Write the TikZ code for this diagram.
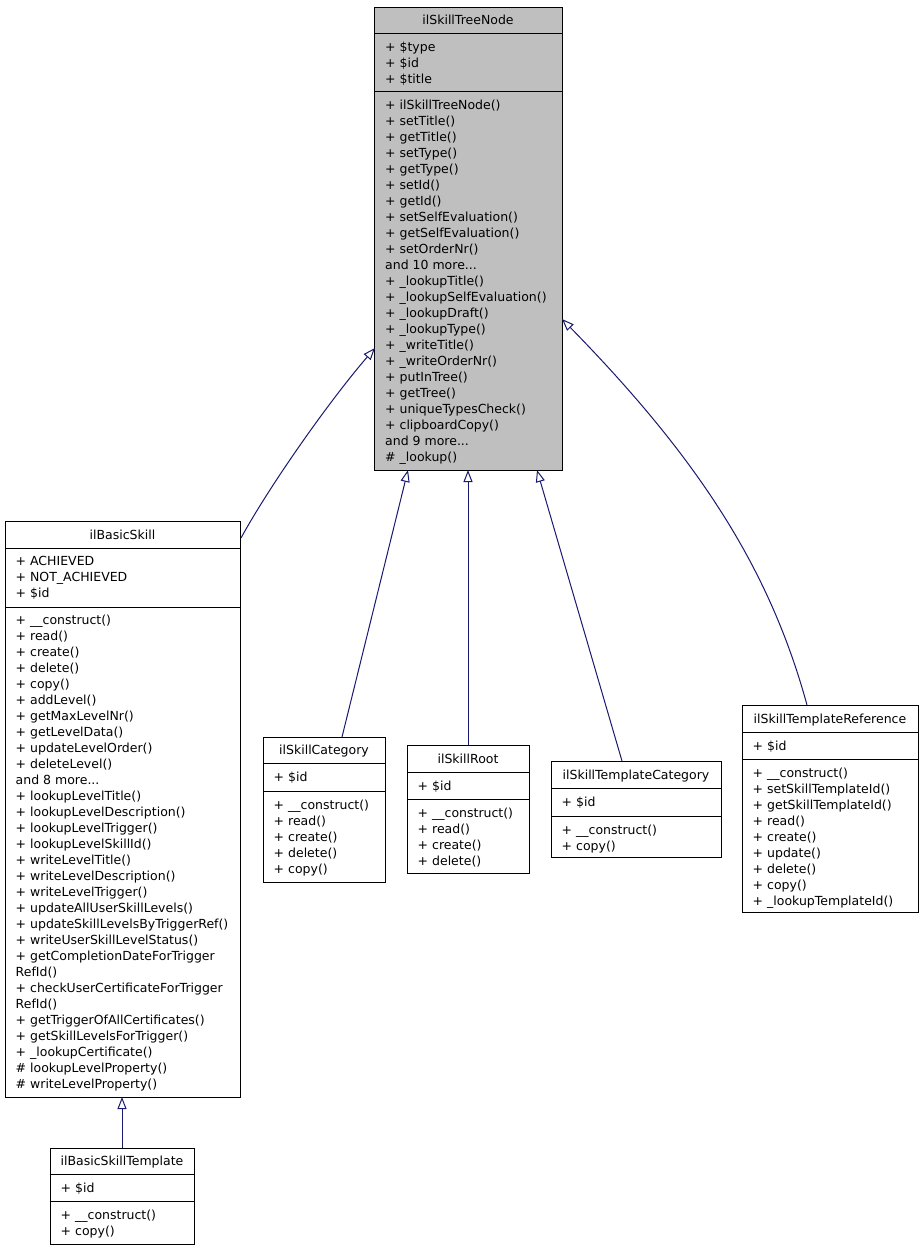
\documentclass[tikz,border=0pt]{standalone}
\usepackage{fontspec}
\setmainfont{DejaVu Sans}
\usetikzlibrary{arrows.meta,calc}
\definecolor{edgeblue}{HTML}{191970}
\definecolor{basegray}{HTML}{BFBFBF}
\newcommand\umlfont{\fontsize{12.5}{16}\selectfont}
\newcommand\mydots{...}
\tikzset{
  cls/.style={draw=black, line width=1pt, rectangle, inner sep=0pt, outer sep=0pt, anchor=north west, fill=white},
  sep/.style={draw=black, line width=1pt},
  txt/.style={anchor=base west, inner sep=0pt, font=\umlfont},
  ttl/.style={anchor=base, inner sep=0pt, font=\umlfont},
  inh/.style={draw=edgeblue, line width=1pt, -{Triangle[open, length=12pt, width=9pt, fill=white]}}
}
\begin{document}
\begin{tikzpicture}[x=1pt,y=-1pt]
\useasboundingbox[fill=white] (0,0) rectangle (923,1251);

% ilSkillTreeNode
\node[cls, fill=basegray, minimum width=188pt, minimum height=463pt] (tree) at (374,7) {};
\draw[sep] (374,33) -- (562,33);
\draw[sep] (374,91) -- (562,91);
\node[ttl] (tree-t) at (468,24.5) {ilSkillTreeNode};
\foreach \s [count=\i from 0] in {+ \$type, + \$id, + \$title}
  \node[txt] (tree-a\i) at (385,51+16*\i) {\s};
\foreach \s [count=\i from 0] in {+ ilSkillTreeNode(), + setTitle(), + getTitle(), + setType(), + getType(), + setId(), + getId(), + setSelfEvaluation(), + getSelfEvaluation(), + setOrderNr(), and 10 more\mydots, + \_lookupTitle(), + \_lookupSelfEvaluation(), + \_lookupDraft(), + \_lookupType(), + \_writeTitle(), + \_writeOrderNr(), + putInTree(), + getTree(), + uniqueTypesCheck(), + clipboardCopy(), and 9 more\mydots, \# \_lookup()}
  \node[txt] (tree-m\i) at (385,109+16*\i) {\s};

% ilBasicSkill
\node[cls, minimum width=235pt, minimum height=576pt] (basic) at (5,521) {};
\draw[sep] (5,548) -- (240,548);
\draw[sep] (5,607) -- (240,607);
\node[ttl] (basic-t) at (122.5,539) {ilBasicSkill};
\foreach \s [count=\i from 0] in {+ ACHIEVED, + NOT\_ACHIEVED, + \$id}
  \node[txt] (basic-a\i) at (15.5,565.5+16*\i) {\s};
\foreach \s [count=\i from 0] in {+ \_\_construct(), + read(), + create(), + delete(), + copy(), + addLevel(), + getMaxLevelNr(), + getLevelData(), + updateLevelOrder(), + deleteLevel(), and 8 more\mydots, + lookupLevelTitle(), + lookupLevelDescription(), + lookupLevelTrigger(), + lookupLevelSkillId(), + writeLevelTitle(), + writeLevelDescription(), + writeLevelTrigger(), + updateAllUserSkillLevels(), + updateSkillLevelsByTriggerRef(), + writeUserSkillLevelStatus(), + getCompletionDateForTrigger, RefId(), + checkUserCertificateForTrigger, RefId(), + getTriggerOfAllCertificates(), + getSkillLevelsForTrigger(), + \_lookupCertificate(), \# lookupLevelProperty(), \# writeLevelProperty()}
  \node[txt] (basic-m\i) at (15.5,624.5+16*\i) {\s};

% ilBasicSkillTemplate
\node[cls, minimum width=144pt, minimum height=96pt] (tmpl) at (50,1148) {};
\draw[sep] (50,1174) -- (194,1174);
\draw[sep] (50,1201) -- (194,1201);
\node[ttl] (tmpl-t) at (122,1165.5) {ilBasicSkillTemplate};
\node[txt] (tmpl-a0) at (60.5,1192) {+ \$id};
\foreach \s [count=\i from 0] in {+ \_\_construct(), + copy()}
  \node[txt] (tmpl-m\i) at (60.5,1219+16*\i) {\s};

% ilSkillCategory
\node[cls, minimum width=122pt, minimum height=145pt] (cat) at (263,737) {};
\draw[sep] (263,763) -- (385,763);
\draw[sep] (263,791) -- (385,791);
\node[ttl] (cat-t) at (324,754.5) {ilSkillCategory};
\node[txt] (cat-a0) at (273.5,781.5) {+ \$id};
\foreach \s [count=\i from 0] in {+ \_\_construct(), + read(), + create(), + delete(), + copy()}
  \node[txt] (cat-m\i) at (273.5,809+16*\i) {\s};

% ilSkillRoot
\node[cls, minimum width=122pt, minimum height=128pt] (root) at (407,745) {};
\draw[sep] (407,772) -- (529,772);
\draw[sep] (407,799) -- (529,799);
\node[ttl] (root-t) at (468,763) {ilSkillRoot};
\node[txt] (root-a0) at (417.5,790) {+ \$id};
\foreach \s [count=\i from 0] in {+ \_\_construct(), + read(), + create(), + delete()}
  \node[txt] (root-m\i) at (417.5,817+16*\i) {\s};

% ilSkillTemplateCategory
\node[cls, minimum width=170pt, minimum height=96pt] (tcat) at (551,761) {};
\draw[sep] (551,788) -- (721,788);
\draw[sep] (551,816) -- (721,816);
\node[ttl] (tcat-t) at (636,779) {ilSkillTemplateCategory};
\node[txt] (tcat-a0) at (561.5,806) {+ \$id};
\foreach \s [count=\i from 0] in {+ \_\_construct(), + copy()}
  \node[txt] (tcat-m\i) at (561.5,834+16*\i) {\s};

% ilSkillTemplateReference
\node[cls, minimum width=176pt, minimum height=207pt] (tref) at (742,705) {};
\draw[sep] (742,732) -- (918,732);
\draw[sep] (742,759) -- (918,759);
\node[ttl] (tref-t) at (830,723) {ilSkillTemplateReference};
\node[txt] (tref-a0) at (752.5,750) {+ \$id};
\foreach \s [count=\i from 0] in {+ \_\_construct(), + setSkillTemplateId(), + getSkillTemplateId(), + read(), + create(), + update(), + delete(), + copy(), + \_lookupTemplateId()}
  \node[txt] (tref-m\i) at (752.5,777+16*\i) {\s};

% inheritance connectors
\draw[inh] ($(basic.north east)+(1,17)$) .. controls (270,485) and (330,400) .. ($(tree.north west)+(1,341)$);
\draw[inh] ($(cat.north west)+(79,0)$) -- ($(tree.south west)+(34,0)$);
\draw[inh] (root.north) -- (root.north |- tree.south);
\draw[inh] ($(tcat.north west)+(71,0)$) -- ($(tree.south west)+(163,0)$);
\draw[inh] ($(tref.north west)+(65,0)$) .. controls (770,570) and (700,460) .. ($(tree.north east)+(0,312)$);
\draw[inh] (tmpl.north) -- (tmpl.north |- basic.south);
\end{tikzpicture}
\end{document}
